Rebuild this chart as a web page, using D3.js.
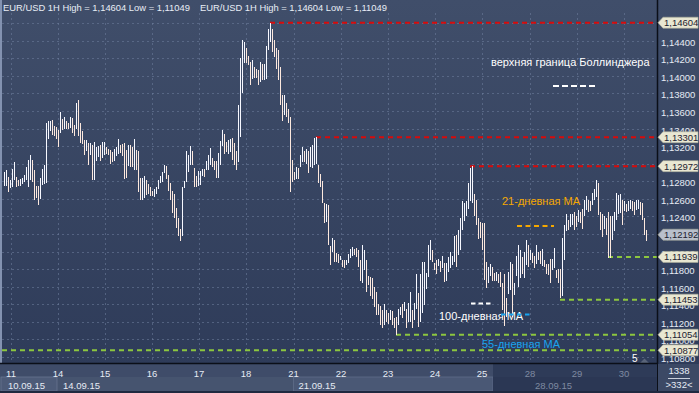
<!DOCTYPE html>
<html><head><meta charset="utf-8">
<script src="https://cdn.jsdelivr.net/npm/d3@7"></script>
<style>html,body{margin:0;padding:0;background:#2d3a57;}svg{display:block;}</style>
</head><body>
<svg id="c" width="699" height="393"></svg>
<script>
// ---- data (EUR/USD 1H, hourly bars: high / low) ----
const highs = [
1.1290,1.1293,1.1285,1.1281,1.1294,1.1302,1.1285,1.1281,1.1283,1.1284,1.1287,1.1296,1.1304,1.1310,1.1304,1.1293,1.1275,1.1275,1.1284,1.1294,
1.1299,1.1346,1.1349,1.1348,1.1350,1.1343,1.1342,1.1338,1.1359,1.1351,1.1353,1.1348,1.1346,1.1353,1.1352,1.1344,1.1369,1.1372,1.1346,1.1337,
1.1327,1.1327,1.1323,1.1323,1.1321,1.1325,1.1319,1.1320,1.1321,1.1325,1.1325,1.1319,1.1317,1.1316,1.1313,1.1317,1.1319,1.1328,1.1321,1.1322,
1.1323,1.1316,1.1321,1.1321,1.1319,1.1328,1.1316,1.1314,1.1284,1.1284,1.1286,1.1281,1.1277,1.1274,1.1269,1.1271,1.1274,1.1281,1.1286,1.1290,
1.1299,1.1297,1.1287,1.1278,1.1269,1.1265,1.1250,1.1238,1.1226,1.1273,1.1280,1.1314,1.1310,1.1320,1.1314,1.1295,1.1286,1.1292,1.1292,1.1294,
1.1294,1.1303,1.1310,1.1318,1.1307,1.1303,1.1303,1.1312,1.1326,1.1338,1.1334,1.1325,1.1327,1.1328,1.1329,1.1323,1.1314,1.1367,1.1420,1.1441,
1.1439,1.1432,1.1423,1.1416,1.1418,1.1410,1.1408,1.1407,1.1416,1.1413,1.1413,1.1434,1.1453,1.1460,1.1453,1.1441,1.1432,1.1429,1.1410,1.1378,
1.1378,1.1369,1.1362,1.1353,1.1304,1.1291,1.1296,1.1295,1.1310,1.1319,1.1314,1.1317,1.1314,1.1319,1.1321,1.1329,1.1330,1.1299,1.1288,1.1280,
1.1255,1.1254,1.1253,1.1206,1.1216,1.1213,1.1198,1.1197,1.1195,1.1191,1.1190,1.1190,1.1197,1.1203,1.1205,1.1203,1.1204,1.1202,1.1190,1.1207,
1.1202,1.1190,1.1172,1.1171,1.1170,1.1160,1.1154,1.1140,1.1138,1.1134,1.1140,1.1134,1.1130,1.1134,1.1132,1.1124,1.1126,1.1135,1.1137,1.1140,
1.1143,1.1135,1.1141,1.1154,1.1134,1.1141,1.1175,1.1153,1.1175,1.1188,1.1188,1.1176,1.1207,1.1213,1.1202,1.1187,1.1190,1.1192,1.1189,1.1195,
1.1187,1.1187,1.1194,1.1199,1.1195,1.1218,1.1219,1.1224,1.1238,1.1257,1.1255,1.1257,1.1278,1.1295,1.1297,1.1266,1.1259,1.1238,1.1234,1.1233,
1.1233,1.1188,1.1183,1.1186,1.1183,1.1176,1.1177,1.1174,1.1177,1.1164,1.1175,1.1147,1.1177,1.1188,1.1186,1.1164,1.1195,1.1207,1.1202,1.1194,
1.1200,1.1213,1.1207,1.1202,1.1198,1.1195,1.1207,1.1200,1.1201,1.1203,1.1191,1.1186,1.1186,1.1192,1.1192,1.1204,1.1179,1.1180,1.1180,1.1215,
1.1230,1.1243,1.1236,1.1243,1.1243,1.1245,1.1241,1.1247,1.1245,1.1248,1.1259,1.1263,1.1259,1.1257,1.1267,1.1271,1.1281,1.1278,1.1245,1.1243,
1.1240,1.1238,1.1245,1.1241,1.1241,1.1245,1.1267,1.1264,1.1266,1.1259,1.1257,1.1254,1.1258,1.1259,1.1257,1.1256,1.1259,1.1259,1.1256,1.1255,
1.1238,1.1225];
const lows = [
1.1275,1.1275,1.1268,1.1272,1.1273,1.1281,1.1273,1.1275,1.1275,1.1277,1.1279,1.1281,1.1274,1.1281,1.1279,1.1259,1.1261,1.1253,1.1260,1.1276,
1.1277,1.1278,1.1328,1.1337,1.1333,1.1332,1.1328,1.1319,1.1335,1.1338,1.1339,1.1340,1.1339,1.1341,1.1335,1.1332,1.1339,1.1331,1.1323,1.1322,
1.1310,1.1314,1.1298,1.1310,1.1282,1.1282,1.1303,1.1308,1.1303,1.1306,1.1310,1.1311,1.1310,1.1300,1.1302,1.1303,1.1309,1.1311,1.1312,1.1309,
1.1283,1.1284,1.1297,1.1296,1.1296,1.1293,1.1293,1.1268,1.1259,1.1259,1.1261,1.1264,1.1265,1.1263,1.1263,1.1262,1.1265,1.1271,1.1278,1.1279,
1.1289,1.1283,1.1269,1.1259,1.1244,1.1238,1.1227,1.1218,1.1212,1.1218,1.1272,1.1279,1.1291,1.1299,1.1299,1.1274,1.1274,1.1275,1.1276,1.1286,
1.1285,1.1293,1.1293,1.1299,1.1296,1.1293,1.1284,1.1284,1.1298,1.1320,1.1311,1.1313,1.1311,1.1313,1.1304,1.1299,1.1293,1.1302,1.1330,1.1380,
1.1414,1.1414,1.1412,1.1389,1.1396,1.1397,1.1398,1.1390,1.1393,1.1395,1.1395,1.1396,1.1429,1.1439,1.1427,1.1421,1.1408,1.1395,1.1367,1.1348,
1.1355,1.1353,1.1346,1.1268,1.1279,1.1281,1.1283,1.1283,1.1296,1.1302,1.1302,1.1300,1.1289,1.1296,1.1295,1.1299,1.1300,1.1278,1.1273,1.1255,
1.1232,1.1234,1.1207,1.1185,1.1200,1.1188,1.1188,1.1187,1.1190,1.1183,1.1181,1.1185,1.1187,1.1193,1.1195,1.1196,1.1194,1.1183,1.1166,1.1164,
1.1179,1.1154,1.1162,1.1149,1.1146,1.1137,1.1128,1.1128,1.1117,1.1113,1.1117,1.1120,1.1118,1.1122,1.1117,1.1113,1.1105,1.1117,1.1128,1.1124,
1.1132,1.1113,1.1120,1.1120,1.1113,1.1122,1.1135,1.1114,1.1120,1.1130,1.1139,1.1158,1.1171,1.1190,1.1188,1.1179,1.1175,1.1184,1.1177,1.1181,
1.1165,1.1166,1.1177,1.1181,1.1185,1.1188,1.1183,1.1196,1.1202,1.1225,1.1235,1.1240,1.1249,1.1257,1.1255,1.1240,1.1230,1.1214,1.1215,1.1202,
1.1168,1.1159,1.1164,1.1172,1.1166,1.1167,1.1166,1.1164,1.1160,1.1133,1.1115,1.1126,1.1152,1.1156,1.1126,1.1151,1.1172,1.1160,1.1170,1.1175,
1.1170,1.1185,1.1182,1.1190,1.1187,1.1181,1.1186,1.1191,1.1186,1.1184,1.1182,1.1175,1.1173,1.1164,1.1179,1.1181,1.1170,1.1164,1.1147,1.1149,
1.1190,1.1223,1.1224,1.1228,1.1230,1.1225,1.1228,1.1234,1.1232,1.1226,1.1240,1.1247,1.1245,1.1246,1.1253,1.1259,1.1262,1.1242,1.1225,1.1217,
1.1226,1.1219,1.1193,1.1193,1.1213,1.1223,1.1236,1.1243,1.1244,1.1230,1.1246,1.1245,1.1246,1.1249,1.1246,1.1242,1.1247,1.1248,1.1242,1.1236,
1.1219,1.1212];
const priceTicks = [1.108,1.110,1.112,1.114,1.116,1.118,1.120,1.122,1.124,1.126,1.128,1.130,1.132,1.134,1.136,1.138,1.140,1.142,1.144,1.146];
const dayLabels = ["11","14","15","16","17","18","21","22","23","24","25","28","29","30"];
const dayPos = [3.5,27,50.5,74,97.5,121,144.75,168.5,192,215.5,239,263,286.5,310]; // bar index of each day
const weekLabels = ["10.09.15","14.09.15","21.09.15","28.09.15"];
const weekPos = [-0.5,27,144.75,263];
const resistLevels = [1.14604,1.13301,1.12972];
const resistFrom = [133,156,233];
const supportLevels = [1.11939,1.11453,1.11054,1.10877];
const supportFrom = [302,278,196,-2];
const lastPrice = 1.12192;
const header = "EUR/USD 1H High = 1,14604 Low = 1,11049";

// ---- layout ----
const W = 699, H = 393, plotR = 657, plotB = 363, shadeFrom = 244.5;
const svg = d3.select("#c");
const defs = svg.append("defs");
const g1 = defs.append("linearGradient").attr("id","bg").attr("x1",0).attr("y1",0).attr("x2",0).attr("y2",1);
g1.append("stop").attr("offset","0%").attr("stop-color","#404e6a");
g1.append("stop").attr("offset","100%").attr("stop-color","#2d3a58");

const x = d3.scaleLinear().domain([0, highs.length-1]).range([4, 646]);
const y = d3.scaleLinear().domain([1.10877, 1.14604]).range([350.3, 22.7]);
const fmt = v => d3.format(".5f")(v).replace(".", ",");
const FONT = "'Liberation Sans', Arial, sans-serif";

svg.append("rect").attr("width",W).attr("height",H).attr("fill","url(#bg)");

// grid
const grid = svg.append("g").attr("stroke","#6f7f9e").attr("stroke-opacity",0.55).attr("stroke-dasharray","2,3").attr("stroke-width",1);
priceTicks.forEach(t => { const yy = Math.round(y(t))+0.5; grid.append("line").attr("x1",2).attr("x2",plotR).attr("y1",yy).attr("y2",yy); });
dayPos.forEach(d => { const xx = Math.round(x(d))+0.5; grid.append("line").attr("x1",xx).attr("x2",xx).attr("y1",13).attr("y2",plotB); });

// left border
svg.append("rect").attr("x",0).attr("y",0).attr("width",2).attr("height",plotB).attr("fill","#8392b0");

// header
[3,200].forEach(hx => svg.append("text").attr("x",hx).attr("y",11).attr("font-family",FONT).attr("font-size",9.4)
  .attr("fill","#e8edf6").text(header));

// level lines
const lv = svg.append("g").attr("stroke-width",2).attr("stroke-dasharray","5,4");
resistLevels.forEach((v,i) => lv.append("line").attr("x1",x(resistFrom[i])).attr("x2",plotR).attr("y1",y(v)).attr("y2",y(v)).attr("stroke","#d80b0b"));
supportLevels.forEach((v,i) => lv.append("line").attr("x1",Math.max(2,x(supportFrom[i]))).attr("x2",plotR).attr("y1",y(v)).attr("y2",y(v)).attr("stroke","#8cc63f"));

// bars
const bars = highs.map((h,i) => ({i, h, l: lows[i]}));
svg.append("g").attr("shape-rendering","crispEdges").selectAll("line").data(bars).join("line")
  .attr("x1", d => Math.round(x(d.i))+0.5).attr("x2", d => Math.round(x(d.i))+0.5)
  .attr("y1", d => y(d.h)).attr("y2", d => y(d.l))
  .attr("stroke", d => {
    if (d.i === 0) return "#fbfaff";
    const pm = (highs[d.i-1]+lows[d.i-1])/2, m = (d.h+d.l)/2;
    return m < pm ? "#fde9de" : "#f7f8ff";
  })
  .attr("stroke-width", 1);

// legend annotations
const leg = svg.append("g").attr("font-family",FONT).attr("font-size",11);
leg.append("text").attr("x",491).attr("y",66).attr("fill","#ffffff").text("верхняя граница Боллинджера");
leg.append("line").attr("x1",553).attr("x2",598).attr("y1",86).attr("y2",86).attr("stroke","#ffffff").attr("stroke-width",2).attr("stroke-dasharray","6,3");
leg.append("text").attr("x",502).attr("y",205).attr("fill","#f6a800").text("21-дневная MA");
leg.append("line").attr("x1",517).attr("x2",554).attr("y1",226).attr("y2",226).attr("stroke","#f6a800").attr("stroke-width",2).attr("stroke-dasharray","5,3.5");
leg.append("line").attr("x1",471).attr("x2",493).attr("y1",303.5).attr("y2",303.5).attr("stroke","#ffffff").attr("stroke-width",2).attr("stroke-dasharray","4.5,3");
leg.append("text").attr("x",439).attr("y",320).attr("fill","#ffffff").text("100-дневная MA");
leg.append("line").attr("x1",501).attr("x2",531).attr("y1",314.5).attr("y2",314.5).attr("stroke","#1aa3ee").attr("stroke-width",2).attr("stroke-dasharray","4.5,3.5");
leg.append("text").attr("x",482).attr("y",348).attr("fill","#19a3ee").text("55-дневная MA");

// "5" marker
svg.append("text").attr("x",632).attr("y",362).attr("font-family",FONT).attr("font-size",10).attr("fill","#ffffff").text("5");
svg.append("path").attr("d","M640,363 L644.5,358.5 L649,363 Z").attr("fill","#596479");

// right axis
svg.append("line").attr("x1",plotR+0.5).attr("x2",plotR+0.5).attr("y1",0).attr("y2",H).attr("stroke","#0b0f18").attr("stroke-width",1.5);
const ax = svg.append("g").attr("font-family",FONT).attr("font-size",9.5).attr("fill","#e6ebf4");
priceTicks.filter(t => t < 1.1455).forEach(t => ax.append("text").attr("x",661).attr("y",y(t)+5).text(fmt(t)));

// price markers
function marker(v, bg, fg) {
  const yy = y(v);
  svg.append("path").attr("d",`M658,${yy} L663,${yy-5.5} L698,${yy-5.5} L698,${yy+5.5} L663,${yy+5.5} Z`)
    .attr("fill",bg).attr("stroke","#a9ab98").attr("stroke-width",0.6);
  svg.append("text").attr("x",664).attr("y",yy+3.5).attr("font-family",FONT).attr("font-size",9.5).attr("fill",fg).text(fmt(v));
}
resistLevels.forEach(v => marker(v,"#e9e7d2","#1d2230"));
supportLevels.forEach(v => marker(v,"#e9e7d2","#1d2230"));
marker(lastPrice,"#b9bfcc","#1d2230");

// bottom axis
const bx = svg.append("g");
bx.append("rect").attr("x",0).attr("y",plotB).attr("width",plotR).attr("height",H-plotB).attr("fill","#3f4c69");
bx.append("rect").attr("x",0).attr("y",377).attr("width",plotR).attr("height",14).attr("fill","#46546f");
bx.append("rect").attr("x",1).attr("y",377).attr("width",x(weekPos[1])-2).attr("height",14).attr("fill","#4d5b78").attr("stroke","#66748f").attr("stroke-width",0.8);
bx.append("rect").attr("x",x(weekPos[2])).attr("y",377).attr("width",x(shadeFrom)-x(weekPos[2])).attr("height",14).attr("fill","#4a5875").attr("stroke","#5f6d89").attr("stroke-width",0.8);
bx.append("rect").attr("x",x(shadeFrom)).attr("y",plotB).attr("width",plotR-x(shadeFrom)).attr("height",H-plotB).attr("fill","#2e3b58");
bx.append("rect").attr("x",x(shadeFrom)).attr("y",377).attr("width",plotR-x(shadeFrom)).attr("height",14).attr("fill","#2b3754");
svg.append("line").attr("x1",0).attr("x2",plotR).attr("y1",plotB+0.5).attr("y2",plotB+0.5).attr("stroke","#0b0f18").attr("stroke-width",1.5);
svg.append("rect").attr("x",0).attr("y",391).attr("width",W).attr("height",2).attr("fill","#1f2940");

dayLabels.forEach((lab,i) => bx.append("text").attr("x",x(dayPos[i])).attr("y",377).attr("text-anchor","middle")
  .attr("font-family",FONT).attr("font-size",9.5).attr("fill", dayPos[i] > shadeFrom ? "#7f8aa1" : "#e6ebf4").text(lab));
weekLabels.forEach((lab,i) => bx.append("text").attr("x",Math.max(x(weekPos[i])+5,8)).attr("y",388.5)
  .attr("font-family",FONT).attr("font-size",9.5).attr("fill", weekPos[i] > shadeFrom ? "#7f8aa1" : "#e6ebf4").text(lab));

// corner
svg.append("rect").attr("x",plotR+1).attr("y",plotB+1).attr("width",W-plotR-1).attr("height",H-plotB-3).attr("fill","#3c4965");
svg.append("text").attr("x",679).attr("y",374).attr("text-anchor","middle").attr("font-family",FONT).attr("font-size",9.5).attr("fill","#e6ebf4").text("1338");
svg.append("line").attr("x1",668).attr("x2",690).attr("y1",378.5).attr("y2",378.5).attr("stroke","#c9cfdb").attr("stroke-width",1);
svg.append("text").attr("x",679).attr("y",388).attr("text-anchor","middle").attr("font-family",FONT).attr("font-size",9.5).attr("fill","#e6ebf4").text(">332<");
</script>
</body></html>
